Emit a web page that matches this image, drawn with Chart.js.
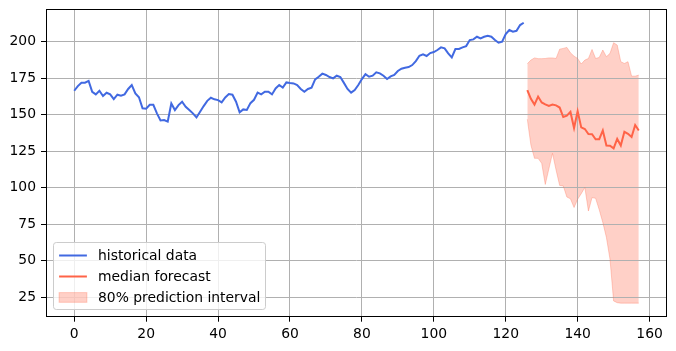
<!DOCTYPE html>
<html><head><meta charset="utf-8">
<script src="https://cdn.jsdelivr.net/npm/chart.js@4/dist/chart.umd.min.js"></script>
<style>html,body{margin:0;padding:0;background:#fff;}#wrap{width:676px;height:351px;position:relative;}</style>
</head><body><div id="wrap"><canvas id="c" width="676" height="351"></canvas></div>
<script>
// ---- data ----
const historyStart = 0;
const historical = [
  166.5, 169.7, 172, 172, 173.2, 165.8, 164, 166.5, 162.9, 165.1,
  164, 160.8, 163.8, 163.1, 164, 167.7, 170.4, 164.7, 162, 154.5,
  154.2, 156.9, 156.9, 151, 146.2, 146.4, 145.3, 157.8, 153.3, 156.7,
  159, 155.5, 153.3, 151, 148.2, 152.1, 156, 159.6, 161.7, 160.6,
  160.1, 158.5, 161.9, 164.2, 163.8, 159, 151.7, 153.7, 153.3, 158,
  160.3, 165.2, 164, 165.8, 165.8, 164, 168.1, 170.4, 168.6, 172.2,
  171.8, 171.5, 170.4, 167.7, 165.8, 167.7, 168.6, 174.3, 176.1, 178.2,
  177.3, 175.9, 175, 176.8, 175.9, 171.9, 167.7, 165.2, 167, 170.4,
  174.5, 177.9, 176.1, 176.8, 179.1, 178.4, 176.8, 174.5, 176.3, 177.3,
  180, 181.6, 182.3, 182.7, 184.1, 186.8, 190.5, 191.4, 190.3, 192.3,
  193, 194.4, 196.2, 195.5, 192.1, 189.4, 195.1, 195.1, 196.2, 197.1,
  201.2, 201.7, 203.5, 202.4, 203.5, 204.2, 203.5, 201.2, 199.4, 200.1,
  205.4, 208.1, 207, 207.6, 211.5, 213.1
];
const forecastStart = 126;
const median = [
  167, 161, 157, 162.5, 158.5, 157.2, 156.1, 157, 156.5, 155,
  148.5, 149.4, 152, 141, 152.5, 141.4, 140.3, 136.8, 136.7, 133.2,
  133.3, 139.3, 129, 128.8, 127, 133.5, 129, 138.4, 137, 134.8,
  143, 139.3
];
const lower80 = [
  147, 129.3, 120.2, 120.2, 116.8, 102.3, 113, 123.6, 112.2, 101.6,
  101.3, 93.7, 92.5, 86.5, 92.2, 96, 100.2, 84.1, 93.3, 92.8,
  85, 76.2, 66, 51, 22.5, 21.3, 21, 21, 21, 21,
  21, 21
];
const upper80 = [
  185, 187.5, 189, 188.5, 188.5, 188.6, 189, 189, 188.6, 195,
  195.5, 196.2, 192.5, 190.2, 188.6, 184.8, 187.5, 188.6, 194.8, 188.6,
  189.3, 194.4, 189.8, 192.1, 199.4, 197.8, 186.4, 185.2, 186.4, 176.5,
  176.5, 177.2
];
const xTicks = [0, 20, 40, 60, 80, 100, 120, 140, 160];
const yTicks = [25, 50, 75, 100, 125, 150, 175, 200];
const seriesLabels = ['historical data', 'median forecast', '80% prediction interval'];

// ---- build ----
const toPts = (arr, start) => arr.map((v, i) => ({x: start + i, y: v}));
const FONT = 'DejaVu Sans';
const FS = 13.9;
const blue = '#4169e1', red = '#ff6347', band = 'rgba(255,99,71,0.3)';

const frame = {
  id: 'frame',
  afterDatasetsDraw(chart) {
    const {ctx, chartArea: a} = chart;
    const l = Math.round(a.left) + 0.5, r = Math.round(a.right) - 0.5;
    const t = Math.round(a.top) + 0.5, b = Math.round(a.bottom) - 0.5;
    ctx.save();
    ctx.strokeStyle = '#000'; ctx.lineWidth = 1;
    ctx.strokeRect(l, t, r - l, b - t);
    ctx.restore();
  },
  afterDraw(chart) {
    const {ctx, chartArea: a} = chart;
    ctx.save();
    ctx.font = FS + 'px "' + FONT + '"';
    let tw = 0;
    seriesLabels.forEach(s => { tw = Math.max(tw, ctx.measureText(s).width); });
    const pad = 5.6, hl = 27.8, htp = 11.1;
    const x0 = Math.round(a.left + 7) + 0.5;
    const w = Math.round(pad + hl + htp + tw + pad);
    const h = 67;
    const y1 = Math.round(a.bottom - 7) - 0.5;
    const y0 = y1 - h;
    const rr = 2.8;
    ctx.beginPath();
    ctx.moveTo(x0 + rr, y0);
    ctx.lineTo(x0 + w - rr, y0); ctx.quadraticCurveTo(x0 + w, y0, x0 + w, y0 + rr);
    ctx.lineTo(x0 + w, y1 - rr); ctx.quadraticCurveTo(x0 + w, y1, x0 + w - rr, y1);
    ctx.lineTo(x0 + rr, y1); ctx.quadraticCurveTo(x0, y1, x0, y1 - rr);
    ctx.lineTo(x0, y0 + rr); ctx.quadraticCurveTo(x0, y0, x0 + rr, y0);
    ctx.closePath();
    ctx.fillStyle = 'rgba(255,255,255,0.8)'; ctx.fill();
    ctx.strokeStyle = '#cccccc'; ctx.lineWidth = 1; ctx.stroke();
    const hx = x0 + pad, tx = hx + hl + htp;
    const rows = [y0 + 13, y0 + 34, y0 + 55];
    ctx.lineWidth = 2;
    ctx.strokeStyle = blue;
    ctx.beginPath(); ctx.moveTo(hx, rows[0]); ctx.lineTo(hx + hl, rows[0]); ctx.stroke();
    ctx.strokeStyle = red;
    ctx.beginPath(); ctx.moveTo(hx, rows[1]); ctx.lineTo(hx + hl, rows[1]); ctx.stroke();
    ctx.fillStyle = band; ctx.strokeStyle = band; ctx.lineWidth = 1;
    ctx.fillRect(hx, rows[2] - 4.9, hl, 9.7);
    ctx.strokeRect(hx, rows[2] - 4.9, hl, 9.7);
    ctx.fillStyle = '#000'; ctx.textBaseline = 'middle'; ctx.textAlign = 'left';
    seriesLabels.forEach((s, i) => ctx.fillText(s, tx, rows[i] + 1));
    ctx.restore();
  }
};

new Chart(document.getElementById('c'), {
  type: 'line',
  data: {
    datasets: [
      {label: seriesLabels[0], data: toPts(historical, historyStart), borderColor: blue, borderWidth: 2, pointRadius: 0, fill: false, tension: 0},
      {label: seriesLabels[1], data: toPts(median, forecastStart), borderColor: red, borderWidth: 2, pointRadius: 0, fill: false, tension: 0},
      {label: 'lower', data: toPts(lower80, forecastStart), borderColor: band, borderWidth: 1, pointRadius: 0, fill: false, tension: 0},
      {label: seriesLabels[2], data: toPts(upper80, forecastStart), borderColor: band, backgroundColor: band, borderWidth: 1, pointRadius: 0, fill: '-1', tension: 0}
    ]
  },
  options: {
    responsive: false, animation: false, devicePixelRatio: 1,
    layout: {padding: {left: 0, top: 9, right: 9, bottom: 0}},
    plugins: {legend: {display: false}, tooltip: {enabled: false}, filler: {drawTime: 'beforeDraw'}},
    scales: {
      x: {
        type: 'linear', min: -7.85, max: 164.85,
        afterBuildTicks: s => { s.ticks = xTicks.map(v => ({value: v})); },
        afterFit: s => { s.height = 34.3; s.paddingLeft = 0; s.paddingRight = 0; },
        ticks: {color: '#000', font: {family: FONT, size: FS}, padding: 4, maxRotation: 0, autoSkip: false},
        grid: {color: '#b0b0b0', lineWidth: 1, tickColor: '#000', tickLength: 5},
        border: {display: false}
      },
      y: {
        type: 'linear', min: 11.7, max: 222.5,
        afterBuildTicks: s => { s.ticks = yTicks.map(v => ({value: v})); },
        afterFit: s => { s.width = 46; s.paddingTop = 0; s.paddingBottom = 0; },
        ticks: {color: '#000', font: {family: FONT, size: FS}, padding: 5, autoSkip: false},
        grid: {color: '#b0b0b0', lineWidth: 1, tickColor: '#000', tickLength: 5},
        border: {display: false}
      }
    }
  },
  plugins: [frame]
});
</script></body></html>
